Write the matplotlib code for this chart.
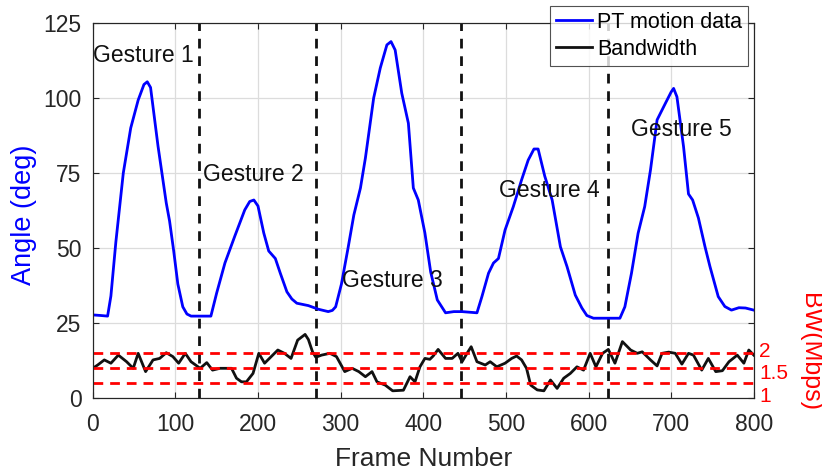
import matplotlib
matplotlib.use("Agg")
import matplotlib.pyplot as plt
from matplotlib.transforms import ScaledTranslation

plt.rcParams["font.family"] = ["Liberation Sans", "DejaVu Sans"]

# PT motion data (angle in degrees vs frame number)
motion_frames = [0, 10, 18, 22, 28, 37, 46, 55, 62, 66, 70, 79, 89, 93, 98, 103, 109, 114,
                 119, 130, 143, 150, 160, 172, 184, 190, 195, 200, 207, 213, 221, 227, 235,
                 241, 247, 261, 273, 285, 290, 294, 301, 309, 316, 324, 330, 340, 348, 356,
                 361, 366, 374, 382, 388, 394, 402, 409, 417, 427, 437, 447, 465, 471, 479,
                 485, 491, 499, 509, 519, 527, 534, 539, 547, 556, 566, 574, 584, 592, 598,
                 606, 620, 638, 644, 652, 660, 668, 675, 683, 693, 700, 703, 707, 715, 721,
                 726, 733, 741, 747, 757, 765, 773, 782, 790, 800]
motion_angle = [27.7, 27.5, 27.3, 34.0, 52.0, 75.0, 90.0, 99.3, 104.5, 105.4, 103.5, 84.0,
                65.0, 59.0, 49.0, 38.0, 30.4, 28.0, 27.3, 27.3, 27.3, 35.0, 45.0, 54.0, 62.7,
                65.5, 66.0, 64.0, 55.0, 49.0, 46.5, 41.6, 35.4, 33.0, 31.6, 30.8, 29.6, 28.8,
                29.2, 30.4, 38.0, 50.0, 61.0, 70.0, 80.0, 100.0, 110.0, 117.7, 118.8, 116.0,
                101.6, 91.6, 70.0, 66.0, 55.0, 42.0, 32.7, 28.4, 28.8, 28.8, 28.4, 33.8, 41.6,
                45.0, 46.5, 56.0, 63.8, 72.7, 79.3, 83.0, 83.0, 74.0, 66.0, 50.4, 43.8, 34.3,
                30.0, 27.5, 26.6, 26.6, 26.6, 30.4, 41.6, 54.9, 63.8, 76.0, 92.7, 98.2, 102.0,
                103.2, 100.4, 83.8, 68.0, 66.0, 60.0, 50.4, 43.8, 33.8, 30.5, 29.3, 30.1, 30.0,
                29.3]

# measured bandwidth (Mbps)
bw_frames = [0, 6, 14, 22, 31, 41, 49, 55, 64, 73, 81, 89, 97, 104, 112, 119, 130, 138, 145,
             154, 168, 174, 180, 186, 194, 201, 208, 216, 224, 232, 240, 248, 257, 261, 266,
             270, 277, 287, 295, 305, 314, 322, 330, 338, 344, 354, 363, 376, 384, 390, 396,
             402, 408, 412, 418, 427, 435, 442, 447, 453, 458, 465, 475, 481, 489, 499, 507,
             513, 519, 525, 530, 538, 546, 554, 562, 570, 578, 586, 594, 602, 609, 617, 624,
             632, 641, 651, 659, 665, 675, 683, 689, 697, 705, 713, 721, 727, 737, 745, 754,
             762, 770, 780, 788, 794, 800]
bw_mbps = [1.49, 1.60, 1.77, 1.66, 1.93, 1.71, 1.49, 1.99, 1.38, 1.77, 1.82, 2.01, 1.88, 1.66,
           1.99, 1.71, 1.49, 1.68, 1.43, 1.49, 1.49, 1.16, 1.04, 1.04, 1.32, 1.99, 1.66, 1.88,
           2.10, 1.99, 1.82, 2.43, 2.62, 2.45, 2.04, 1.86, 1.93, 1.99, 1.88, 1.38, 1.49, 1.38,
           1.21, 1.38, 1.04, 0.93, 0.74, 0.76, 1.21, 1.04, 1.54, 1.82, 1.79, 1.90, 2.12, 1.82,
           1.82, 1.99, 1.71, 1.99, 2.21, 1.71, 1.60, 1.71, 1.54, 1.66, 1.82, 1.90, 1.77, 1.49,
           0.93, 0.77, 0.74, 1.10, 0.82, 1.16, 1.32, 1.54, 1.43, 1.99, 1.54, 1.99, 2.12, 1.66,
           2.38, 2.10, 1.99, 2.04, 1.77, 1.57, 1.99, 2.03, 1.99, 1.63, 1.99, 1.93, 1.43, 1.82,
           1.38, 1.41, 1.71, 1.93, 1.66, 2.10, 1.93]

bw_levels = [1, 1.5, 2]
bw_level_labels = ["1", "1.5", "2"]
gesture_bounds = [129, 270, 446, 623]
gesture_labels = ["Gesture 1", "Gesture 2", "Gesture 3", "Gesture 4", "Gesture 5"]
gesture_label_x = [0, 133, 302, 492, 652]
gesture_label_y = [114.3, 74.6, 39.3, 69.3, 89.5]

axis_gray = "#262626"
fig = plt.figure(figsize=(8.22, 4.74), dpi=100)
ax = fig.add_axes([0.1128, 0.1603, 0.8042, 0.7912])

ax.set_xlim(0, 800)
ax.set_ylim(0, 125)
ax.set_xticks(range(0, 801, 100))
ax.set_yticks(range(0, 126, 25))
ax.grid(True, color="#dcdcdc", linewidth=0.9)
ax.set_axisbelow(True)

(motion_line,) = ax.plot(motion_frames, motion_angle, color="#0000ff", linewidth=2.0,
                         label="PT motion data", zorder=3)
for xb in gesture_bounds:
    ax.axvline(xb, color="#111111", linestyle=(0, (3.5, 2.8)), linewidth=2.0, zorder=2)
for label, tx, ty in zip(gesture_labels, gesture_label_x, gesture_label_y):
    ax.text(tx, ty, label, fontsize=16.5, color="#111111", ha="left", va="center", zorder=4)

ax.set_xlabel("Frame Number", fontsize=19, color=axis_gray, va="center")
ax.xaxis.set_label_coords(0.501, -0.163)
ax.set_ylabel("Angle (deg)", fontsize=19.5, color="#0000ff", va="center")
ax.yaxis.set_label_coords(-0.104, 0.488)

# bandwidth on a second scale: 1 Mbps -> 5 deg, 2 Mbps -> 15 deg
bw_ax = ax.twinx()
bw_ax.set_ylim(0.5, 13.0)
(bw_line,) = bw_ax.plot(bw_frames, bw_mbps, color="#111111", linewidth=2.0, label="Bandwidth")
for level in bw_levels:
    bw_ax.axhline(level, color="#ff0000", linestyle=(0, (3.5, 2.5)), linewidth=2.0)
bw_ax.set_yticks(bw_levels)
bw_ax.set_yticklabels(bw_level_labels)
bw_ax.tick_params(axis="y", colors="#ff0000", labelsize=15, length=0, pad=4)
# spread the closely spaced level labels apart (offsets in points)
for tick_label, dy in zip(bw_ax.get_yticklabels(), [-8.6, -2.2, 2.2]):
    tick_label.set_transform(tick_label.get_transform()
                             + ScaledTranslation(0, dy / 72, fig.dpi_scale_trans))
bw_ax.set_ylabel("BW(Mbps)", fontsize=18, color="#ff0000", rotation=270, va="center")
bw_ax.yaxis.set_label_coords(1.085, 0.123)

ax.tick_params(axis="both", direction="in", top=True, right=True, labelright=False,
               length=4, width=0.8, colors=axis_gray, labelsize=16.5)
ax.tick_params(axis="x", pad=11)
ax.tick_params(axis="y", pad=8)
for axes_obj in (ax, bw_ax):
    for spine in axes_obj.spines.values():
        spine.set_color(axis_gray)
        spine.set_linewidth(0.8)

legend = fig.legend([motion_line, bw_line], ["PT motion data", "Bandwidth"],
                    loc="upper right", bbox_to_anchor=(0.91, 0.988), fontsize=15.5,
                    frameon=True, fancybox=False, handlelength=1.7, handletextpad=0.2,
                    labelspacing=0.26, borderpad=0.29, borderaxespad=0)
legend.get_frame().set_edgecolor(axis_gray)
legend.get_frame().set_linewidth(0.8)

fig.savefig("out.png", dpi=100)
